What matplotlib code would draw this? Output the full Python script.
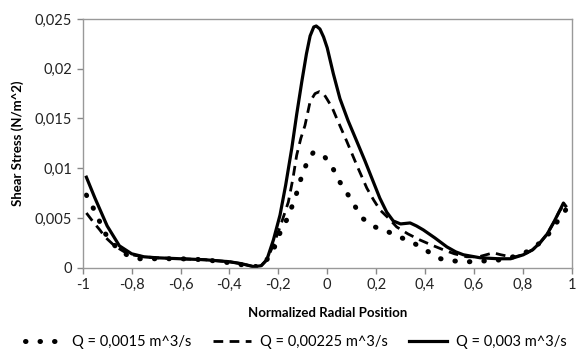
import matplotlib
matplotlib.use("Agg")
from matplotlib import pyplot as plt

plt.rcParams['font.family'] = ['Lato', 'DejaVu Sans']

# Q = 0,0015 m^3/s  (dotted)
x_low = [-0.985, -0.957, -0.93, -0.91, -0.868, -0.82, -0.766, -0.7, -0.6, -0.5,
         -0.4, -0.35, -0.3, -0.27, -0.247, -0.22, -0.193, -0.166, -0.145, -0.125,
         -0.108, -0.087, -0.057, -0.035, -0.009, 0.025, 0.052, 0.086, 0.118, 0.148,
         0.195, 0.25, 0.305, 0.359, 0.414, 0.464, 0.523, 0.581, 0.638, 0.7,
         0.761, 0.816, 0.86, 0.9, 0.94, 0.975]
y_low = [0.0073, 0.0060, 0.0046, 0.0035, 0.0022, 0.0013, 0.0009, 0.0009, 0.0009, 0.0008,
         0.0005, 0.0003, 0.0001, 0.0002, 0.0008, 0.0018, 0.0035, 0.0048, 0.0061, 0.0075,
         0.0089, 0.0103, 0.0116, 0.0115, 0.0111, 0.0099, 0.0086, 0.0073, 0.0060, 0.0049,
         0.0041, 0.0036, 0.0030, 0.0024, 0.0016, 0.0009, 0.00067, 0.0006, 0.00067, 0.00077,
         0.0011, 0.0016, 0.0023, 0.0032, 0.0046, 0.0058]

# Q = 0,00225 m^3/s  (dashed)
x_mid = [-0.985, -0.957, -0.93, -0.909, -0.87, -0.83, -0.8, -0.75, -0.7, -0.6,
         -0.5, -0.4, -0.35, -0.3, -0.27, -0.247, -0.22, -0.19, -0.159, -0.14,
         -0.125, -0.108, -0.091, -0.07, -0.05, -0.032, -0.015, -0.002, 0.02, 0.039,
         0.08, 0.121, 0.162, 0.19, 0.216, 0.25, 0.284, 0.33, 0.378, 0.425,
         0.475, 0.52, 0.57, 0.62, 0.65, 0.679, 0.71, 0.761, 0.8, 0.84,
         0.87, 0.9, 0.925, 0.95, 0.975]
y_mid = [0.0055, 0.0046, 0.0038, 0.0031, 0.0022, 0.0016, 0.0013, 0.0011, 0.0010, 0.0009,
         0.0008, 0.0006, 0.0004, 0.0001, 0.0002, 0.0008, 0.0023, 0.0043, 0.0066, 0.0090,
         0.0113, 0.0130, 0.0143, 0.0167, 0.0175, 0.0177, 0.0175, 0.0170, 0.0161, 0.0150,
         0.0127, 0.0103, 0.0080, 0.0068, 0.0058, 0.0050, 0.0041, 0.0034, 0.0028, 0.0023,
         0.0018, 0.0014, 0.0011, 0.0011, 0.0013, 0.0015, 0.0013, 0.00105, 0.0013, 0.0018,
         0.0025, 0.0034, 0.0045, 0.0057, 0.0065]

# Q = 0,003 m^3/s  (solid)
x_high = [-0.985, -0.95, -0.9, -0.85, -0.8, -0.75, -0.7, -0.6, -0.5, -0.4,
          -0.35, -0.3, -0.27, -0.247, -0.22, -0.193, -0.17, -0.145, -0.125, -0.104,
          -0.085, -0.07, -0.055, -0.045, -0.03, -0.015, 0.0, 0.025, 0.052, 0.085,
          0.121, 0.155, 0.189, 0.215, 0.243, 0.27, 0.3, 0.339, 0.365, 0.393,
          0.44, 0.489, 0.525, 0.557, 0.625, 0.7, 0.75, 0.802, 0.84, 0.87,
          0.9, 0.925, 0.95, 0.966, 0.975]
y_high = [0.0091, 0.0070, 0.0042, 0.0022, 0.0014, 0.0011, 0.0010, 0.0009, 0.0008, 0.0006,
          0.0004, 0.0001, 0.0002, 0.0008, 0.0028, 0.0053, 0.0083, 0.0120, 0.0154, 0.0187,
          0.0215, 0.0233, 0.0242, 0.0243, 0.0240, 0.0232, 0.0221, 0.0195, 0.0170, 0.0148,
          0.0127, 0.0107, 0.0086, 0.0070, 0.0056, 0.0047, 0.0044, 0.0045, 0.0042, 0.0038,
          0.0030, 0.0021, 0.0016, 0.0013, 0.0010, 0.0009, 0.0009, 0.0013, 0.0018, 0.0025,
          0.0034, 0.0045, 0.0057, 0.0065, 0.0062]

labels = ["Q = 0,0015 m^3/s", "Q = 0,00225 m^3/s", "Q = 0,003 m^3/s"]
xticks = [-1, -0.8, -0.6, -0.4, -0.2, 0, 0.2, 0.4, 0.6, 0.8, 1]
yticks = [0, 0.005, 0.01, 0.015, 0.02, 0.025]


def comma(v):
    s = "{:g}".format(v)
    return s.replace(".", ",")


fig = plt.figure(figsize=(5.76, 3.51), dpi=100)
ax = fig.add_axes([0.1436, 0.2373, 0.849, 0.7085])

ax.plot(x_low, y_low, color='black', linewidth=3.6, linestyle=(0, (0.1, 2.8)),
        dash_capstyle='round', label=labels[0])
ax.plot(x_mid, y_mid, color='black', linewidth=2.0, linestyle=(0, (3.5, 2.3)),
        dash_capstyle='butt', label=labels[1])
ax.plot(x_high, y_high, color='black', linewidth=2.3, label=labels[2])

ax.set_xlim(-1, 1)
ax.set_ylim(0, 0.025)
ax.set_xticks(xticks)
ax.set_yticks(yticks)
ax.set_xticklabels([comma(v) for v in xticks], fontsize=10.5, color='#222222')
ax.set_yticklabels([comma(v) for v in yticks], fontsize=10.5, color='#222222')
ax.tick_params(axis='both', direction='out', length=4, color='#888888', width=1)

for side in ['left', 'right', 'top', 'bottom']:
    ax.spines[side].set_color('#999999')
    ax.spines[side].set_linewidth(1)

ax.set_xlabel("Normalized Radial Position", fontsize=9.5, fontweight='bold', labelpad=11)
ax.set_ylabel("Shear Stress (N/m^2)", fontsize=9.5, fontweight='bold', labelpad=8)

ax.legend(loc='center', bbox_to_anchor=(0.436, -0.300), ncol=3, frameon=False,
          fontsize=10.5, handlelength=2.6, columnspacing=1.5, handletextpad=0.6,
          borderaxespad=0, borderpad=0)

fig.savefig("out.png", dpi=100)
